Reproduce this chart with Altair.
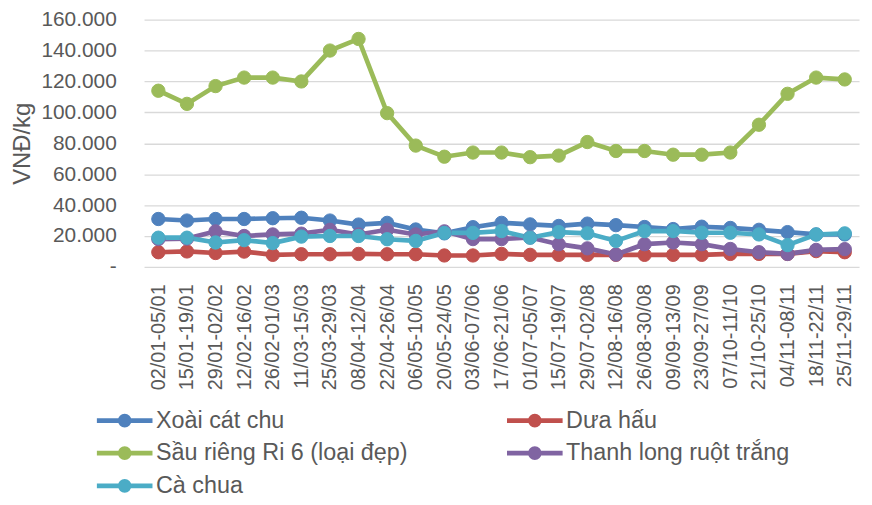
import altair as alt
import pandas as pd

periods = ["02/01-05/01", "15/01-19/01", "29/01-02/02", "12/02-16/02", "26/02-01/03",
           "11/03-15/03", "25/03-29/03", "08/04-12/04", "22/04-26/04", "06/05-10/05",
           "20/05-24/05", "03/06-07/06", "17/06-21/06", "01/07-05/07", "15/07-19/07",
           "29/07-02/08", "12/08-16/08", "26/08-30/08", "09/09-13/09", "23/09-27/09",
           "07/10-11/10", "21/10-25/10", "04/11-08/11", "18/11-22/11", "25/11-29/11"]

series_names = ["Xoài cát chu", "Dưa hấu", "Sầu riêng Ri 6 (loại đẹp)",
                "Thanh long ruột trắng", "Cà chua"]
series_colors = ["#4F81BD", "#C0504D", "#9BBB59", "#8064A2", "#4BACC6"]

xoai = [31000, 30000, 31000, 31000, 31500, 31800, 30000, 27400, 28500, 24200,
        21700, 25700, 28500, 27500, 26500, 28000, 27000, 25800, 24500, 26000,
        25200, 24000, 22500, 21000, 21000]
duahau = [9500, 10000, 9000, 9900, 7800, 8200, 8200, 8400, 8200, 8200,
          7400, 7400, 8400, 7800, 7800, 7800, 7800, 7800, 7800, 7800,
          8400, 8400, 8400, 10200, 9500]
saurieng = [114000, 105500, 117000, 122500, 122500, 120000, 140000, 147500, 99500, 78500,
            71300, 74000, 74000, 71000, 72000, 80800, 75000, 75000, 72600, 72600,
            74000, 92000, 112000, 122500, 121300]
thanhlong = [18000, 18300, 23000, 20000, 21000, 21500, 24000, 21000, 24000, 21000,
             23000, 18000, 18000, 19000, 14700, 12000, 8000, 14700, 15800, 14700,
             11600, 9500, 8400, 11000, 11500]
cachua = [18900, 18900, 15800, 17300, 15400, 19600, 20000, 20000, 17900, 16800,
          22000, 22000, 23200, 18900, 22500, 21700, 16800, 23200, 23200, 22100,
          22100, 21000, 14100, 21000, 21700]

all_values = [xoai, duahau, saurieng, thanhlong, cachua]
rows = []
for si, (name, vals) in enumerate(zip(series_names, all_values)):
    for pi, (p, v) in enumerate(zip(periods, vals)):
        rows.append({"period": p, "series": name, "value": v, "order": si})
df = pd.DataFrame(rows)

FONT = "Liberation Sans"
TXT = "#595959"

x = alt.X("period:N", sort=periods, title=None,
          scale=alt.Scale(type="point", padding=0.5),
          axis=alt.Axis(labelAngle=-90, labelFont=FONT, labelFontSize=20,
                        labelColor=TXT, labelPadding=17, domain=False, ticks=False,
                        grid=False, labelOverlap=False))
y = alt.Y("value:Q", title="VNĐ/kg",
          scale=alt.Scale(domain=[0, 160000], nice=False, zero=True),
          axis=alt.Axis(values=list(range(0, 160001, 20000)),
                        labelExpr="datum.value == 0 ? '-\u00a0\u00a0' : replace(format(datum.value, ','), ',', '.')",
                        labelFont=FONT, labelFontSize=21, labelColor=TXT,
                        labelPadding=28, ticks=False, domain=False,
                        grid=True, gridColor="#D9D9D9", gridWidth=1.3,
                        titleFont=FONT, titleFontSize=24, titleColor=TXT,
                        titleFontWeight="normal", titlePadding=6))

cscale = alt.Scale(domain=series_names, range=series_colors)

# line from -1..3 (scaled by sqrt(size)/2 = 14px) with a dot at its middle
sym_path = "M-1,0L3,0M1.32,0A0.32,0.32,0,1,1,0.68,0A0.32,0.32,0,1,1,1.32,0Z"

legend = alt.Legend(title=None, orient="none", legendX=-50, legendY=387,
                    direction="horizontal", columns=2, columnPadding=90,
                    rowPadding=2,
                    symbolType=sym_path, symbolSize=784, symbolStrokeWidth=4.7,
                    symbolOpacity=1, labelFont=FONT, labelFontSize=23.5,
                    labelColor=TXT, labelOffset=29, labelLimit=400)

lines = alt.Chart(df).mark_line(strokeWidth=4.7).encode(
    x=x, y=y,
    stroke=alt.Stroke("series:N", scale=cscale, legend=legend),
    order=alt.Order("order:Q"),
)

points = alt.Chart(df).mark_point(size=180, filled=False, opacity=1, fillOpacity=1,
                                  strokeWidth=1).encode(
    x=x, y=y,
    fill=alt.Fill("series:N", scale=cscale, legend=legend),
    stroke=alt.Stroke("series:N", scale=cscale, legend=legend),
    order=alt.Order("order:Q"),
)

chart = alt.layer(lines, points).properties(
    width=720, height=249,
    autosize=alt.AutoSizeParams(type="none"),
    padding={"left": 137, "top": 10, "right": 5, "bottom": 230},
).configure_view(stroke=None)

chart.save("out.html", embed_options={"renderer": "svg", "actions": False})
